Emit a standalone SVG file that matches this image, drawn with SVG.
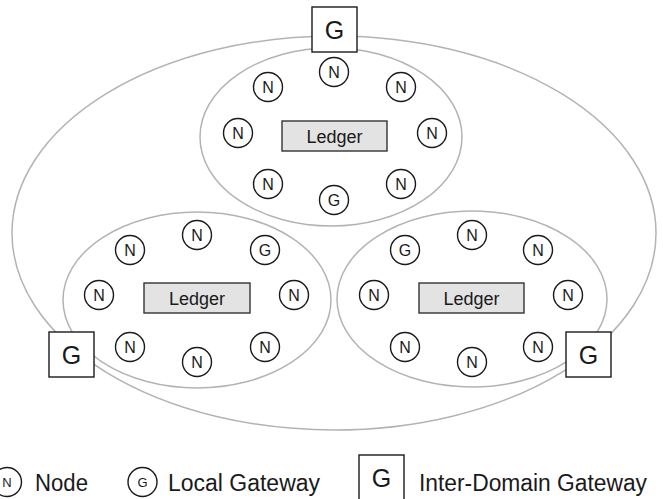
<svg xmlns="http://www.w3.org/2000/svg" width="663" height="499" viewBox="0 0 663 499">
<style>
  text { font-family: "Liberation Sans", Arial, sans-serif; fill: #1a1a1a; }
  .dom { fill: none; stroke: #b3b3b3; stroke-width: 1.5; }
  .nd circle { fill: #fff; stroke: #1a1a1a; stroke-width: 1.4; }
  .nd text { font-size: 16px; text-anchor: middle; }
  .ledger rect { fill: #e3e3e3; stroke: #333; stroke-width: 1.4; }
  .ledger text { font-size: 18px; text-anchor: middle; }
  .igw rect { fill: #fff; stroke: #1a1a1a; stroke-width: 1.4; }
  .igw text { font-size: 25px; text-anchor: middle; }
  .leg { font-size: 23px; }
</style>

<g id="domains">
  <ellipse class="dom" cx="334" cy="233" rx="322" ry="197"/>
  <ellipse class="dom" cx="331" cy="137" rx="131" ry="89"/>
  <ellipse class="dom" cx="197" cy="300" rx="134" ry="88"/>
  <ellipse class="dom" cx="472" cy="299" rx="135" ry="88"/>
</g>

<g id="connectors"></g>

<!-- Top domain -->
<g id="top-ledger" class="ledger"><rect x="282" y="121" width="105" height="30"/><text x="334.5" y="142.5">Ledger</text></g>
<g id="top-n1" class="nd"><circle cx="334" cy="72" r="14.5"/><text x="334" y="77.8">N</text></g>
<g id="top-n2" class="nd"><circle cx="268" cy="87" r="14.5"/><text x="268" y="92.8">N</text></g>
<g id="top-n3" class="nd"><circle cx="401" cy="87" r="14.5"/><text x="401" y="92.8">N</text></g>
<g id="top-n4" class="nd"><circle cx="238" cy="133" r="14.5"/><text x="238" y="138.8">N</text></g>
<g id="top-n5" class="nd"><circle cx="432" cy="133" r="14.5"/><text x="432" y="138.8">N</text></g>
<g id="top-n6" class="nd"><circle cx="268" cy="184" r="14.5"/><text x="268" y="189.8">N</text></g>
<g id="top-n7" class="nd"><circle cx="401" cy="184" r="14.5"/><text x="401" y="189.8">N</text></g>
<g id="top-g" class="nd"><circle cx="334" cy="200" r="14.5"/><text x="334" y="205.8">G</text></g>

<!-- Bottom-left domain -->
<g id="bl-ledger" class="ledger"><rect x="144" y="283" width="106" height="30"/><text x="197" y="304.5">Ledger</text></g>
<g id="bl-n1" class="nd"><circle cx="197" cy="235" r="14.5"/><text x="197" y="240.8">N</text></g>
<g id="bl-n2" class="nd"><circle cx="130" cy="250" r="14.5"/><text x="130" y="255.8">N</text></g>
<g id="bl-g" class="nd"><circle cx="265" cy="250" r="14.5"/><text x="265" y="255.8">G</text></g>
<g id="bl-n3" class="nd"><circle cx="99" cy="295" r="14.5"/><text x="99" y="300.8">N</text></g>
<g id="bl-n4" class="nd"><circle cx="294" cy="295" r="14.5"/><text x="294" y="300.8">N</text></g>
<g id="bl-n5" class="nd"><circle cx="130" cy="347" r="14.5"/><text x="130" y="352.8">N</text></g>
<g id="bl-n6" class="nd"><circle cx="197" cy="362" r="14.5"/><text x="197" y="367.8">N</text></g>
<g id="bl-n7" class="nd"><circle cx="265" cy="347" r="14.5"/><text x="265" y="352.8">N</text></g>

<!-- Bottom-right domain -->
<g id="br-ledger" class="ledger"><rect x="419" y="283" width="105" height="30"/><text x="471.5" y="304.5">Ledger</text></g>
<g id="br-n1" class="nd"><circle cx="472" cy="235" r="14.5"/><text x="472" y="240.8">N</text></g>
<g id="br-g" class="nd"><circle cx="405" cy="250" r="14.5"/><text x="405" y="255.8">G</text></g>
<g id="br-n2" class="nd"><circle cx="538" cy="250" r="14.5"/><text x="538" y="255.8">N</text></g>
<g id="br-n3" class="nd"><circle cx="374" cy="295" r="14.5"/><text x="374" y="300.8">N</text></g>
<g id="br-n4" class="nd"><circle cx="568" cy="295" r="14.5"/><text x="568" y="300.8">N</text></g>
<g id="br-n5" class="nd"><circle cx="405" cy="347" r="14.5"/><text x="405" y="352.8">N</text></g>
<g id="br-n6" class="nd"><circle cx="472" cy="362" r="14.5"/><text x="472" y="367.8">N</text></g>
<g id="br-n7" class="nd"><circle cx="538" cy="347" r="14.5"/><text x="538" y="352.8">N</text></g>

<!-- Inter-domain gateways -->
<g id="igw-top" class="igw"><rect x="312" y="7" width="45" height="45"/><text x="334.5" y="38.5">G</text></g>
<g id="igw-left" class="igw"><rect x="49" y="332" width="45" height="45"/><text x="71.5" y="363.5">G</text></g>
<g id="igw-right" class="igw"><rect x="566" y="332" width="45" height="45"/><text x="588.5" y="363.5">G</text></g>

<!-- Legend -->
<g id="legend">
  <g id="leg-node" class="nd"><circle cx="7" cy="482" r="14.5"/><text x="7" y="486.5" style="font-size:13px">N</text></g>
  <text class="leg" x="35" y="491" textLength="53" lengthAdjust="spacingAndGlyphs">Node</text>
  <g id="leg-lgw" class="nd"><circle cx="142.5" cy="482" r="14.5"/><text x="142.5" y="486.5" style="font-size:13px">G</text></g>
  <text class="leg" x="168" y="491" textLength="152" lengthAdjust="spacingAndGlyphs">Local Gateway</text>
  <g id="leg-igw" class="igw"><rect x="359" y="455" width="45" height="50"/><text x="381.5" y="487">G</text></g>
  <text class="leg" x="419" y="491" textLength="228" lengthAdjust="spacingAndGlyphs">Inter-Domain Gateway</text>
</g>
</svg>
